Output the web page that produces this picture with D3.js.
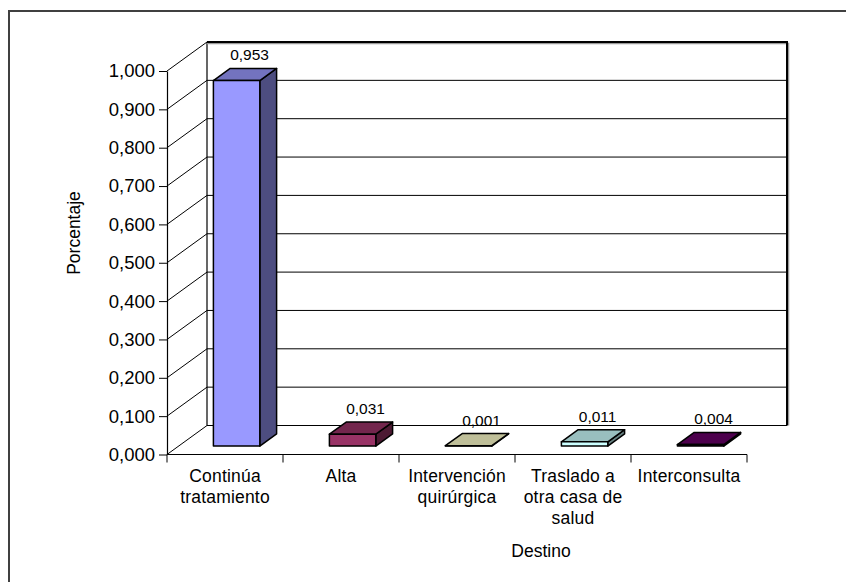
<!DOCTYPE html>
<html>
<head>
<meta charset="utf-8">
<script src="https://cdn.jsdelivr.net/npm/d3@7"></script>
<style>
  html, body { margin: 0; padding: 0; background: #fff; overflow: hidden; }
  svg { display: block; font-family: "Liberation Sans", Arial, sans-serif; }
</style>
</head>
<body>
<svg id="chart" width="846" height="582"></svg>
<script>
// Destino de los pacientes (proporción)
const categories = ["Continúa tratamiento", "Alta", "Intervención quirúrgica", "Traslado a otra casa de salud", "Interconsulta"];
const categoryLines = [["Continúa", "tratamiento"], ["Alta"], ["Intervención", "quirúrgica"], ["Traslado a", "otra casa de", "salud"], ["Interconsulta"]];
const values = [0.953, 0.031, 0.001, 0.011, 0.004];
const frontColors = ["#9999FF", "#993366", "#FFFFCC", "#CCFFFF", "#660066"];
const yTicks = [0, 0.1, 0.2, 0.3, 0.4, 0.5, 0.6, 0.7, 0.8, 0.9, 1.0];

const svg = d3.select("#chart");

// outer chart frame: only its top and left edges fall inside the page
svg.append("path")
  .attr("d", "M9,600V11H860")
  .attr("fill", "none").attr("stroke", "#404040").attr("stroke-width", 2);

// front plane scales and the 3D depth vector
const x = d3.scaleBand().domain(categories).range([167, 747]).paddingInner(0).paddingOuter(0);
const y = d3.scaleLinear().domain([0, 1]).range([454.5, 71]);
const DX = 40, DY = -29;
const x0 = x.range()[0], x1 = x.range()[1];

const fmt = v => d3.format(".3f")(v).replace(".", ",");

// back wall
const wall = svg.append("g");

// gridlines on the back wall and the left wall
yTicks.forEach(t => {
  wall.append("line")
    .attr("x1", x0 + DX).attr("x2", x1 + DX)
    .attr("y1", y(t) + DY).attr("y2", y(t) + DY)
    .attr("stroke", "#000").attr("stroke-width", 1);
  wall.append("line")
    .attr("x1", x0).attr("y1", y(t))
    .attr("x2", x0 + DX).attr("y2", y(t) + DY)
    .attr("stroke", "#000").attr("stroke-width", 1);
});
// left edge of the back wall
wall.append("line")
  .attr("x1", x0 + DX).attr("x2", x0 + DX)
  .attr("y1", y(1) + DY).attr("y2", y(0) + DY)
  .attr("stroke", "#000").attr("stroke-width", 1.2);
// heavy top and right border with light shadow
wall.append("path")
  .attr("d", `M${x0 + DX},${y(1) + DY + 1.5}H${x1 + DX + 1.5}V${y(0) + DY}`)
  .attr("fill", "none").attr("stroke", "#999").attr("stroke-width", 1.5);
wall.append("path")
  .attr("d", `M${x0 + DX},${y(1) + DY}H${x1 + DX}V${y(0) + DY}`)
  .attr("fill", "none").attr("stroke", "#000").attr("stroke-width", 2);

// floor front edge and category ticks
svg.append("line")
  .attr("x1", x0).attr("x2", x1).attr("y1", y(0)).attr("y2", y(0))
  .attr("stroke", "#000").attr("stroke-width", 1.2);
const edges = categories.map(c => x(c)).concat([x1]);
svg.append("g").selectAll("line").data(edges).join("line")
  .attr("x1", d => d).attr("x2", d => d)
  .attr("y1", y(0)).attr("y2", y(0) + 8)
  .attr("stroke", "#000").attr("stroke-width", 1);

// value axis
const yAxis = d3.axisLeft(y).tickValues(yTicks).tickFormat(fmt).tickSize(8).tickSizeOuter(0).tickPadding(4);
const ya = svg.append("g").attr("transform", `translate(${x0},0)`).call(yAxis);
ya.select(".domain").attr("stroke", "#000").attr("stroke-width", 1.2);
ya.selectAll(".tick line").attr("stroke", "#000");
ya.selectAll(".tick text")
  .attr("fill", "#000").attr("font-size", 18.5)
  .attr("font-family", "'Liberation Sans', Arial, sans-serif");

// category labels
const bw = x.bandwidth();
const catG = svg.append("g");
categories.forEach((c, i) => {
  const t = catG.append("text")
    .attr("x", x(c) + bw / 2).attr("y", 481.5)
    .attr("text-anchor", "middle").attr("font-size", 17.5)
    .attr("letter-spacing", 0.2).attr("fill", "#000");
  categoryLines[i].forEach((ln, k) => {
    t.append("tspan").attr("x", x(c) + bw / 2).attr("dy", k === 0 ? 0 : 21).text(ln);
  });
});

// 3D bars
const f1 = 0.29, f2 = 0.71;
const bdx = (f2 - f1) * DX, bdy = (f2 - f1) * DY;
const shade = (col, k) => {
  const c = d3.rgb(col);
  return d3.rgb(c.r * k, c.g * k, c.b * k).formatHex();
};
const bars = svg.append("g");
categories.forEach((c, i) => {
  const v = values[i];
  const bx = x(c) + bw * 0.3 + f1 * DX;
  const w = bw * 0.4;
  const yb = y(0) + f1 * DY;
  const yt = y(v) + f1 * DY;
  const g = bars.append("g").attr("stroke", "#000").attr("stroke-width", 1.5).attr("stroke-linejoin", "round");
  g.append("polygon")
    .attr("points", [[bx + w, yt], [bx + w + bdx, yt + bdy], [bx + w + bdx, yb + bdy], [bx + w, yb]].join(" "))
    .attr("fill", shade(frontColors[i], 0.5));
  g.append("polygon")
    .attr("points", [[bx, yt], [bx + w, yt], [bx + w + bdx, yt + bdy], [bx + bdx, yt + bdy]].join(" "))
    .attr("fill", shade(frontColors[i], 0.75));
  g.append("rect")
    .attr("x", bx).attr("y", yt).attr("width", w).attr("height", Math.max(0, yb - yt))
    .attr("fill", frontColors[i]);
  // value label
  svg.append("text")
    .attr("x", bx + w / 2 + 13).attr("y", yt + bdy - 8)
    .attr("text-anchor", "middle").attr("font-size", 15.5).attr("fill", "#000")
    .text(fmt(v));
});

// axis titles
svg.append("text")
  .attr("transform", "translate(80,233) rotate(-90)")
  .attr("text-anchor", "middle").attr("font-size", 17.5).attr("fill", "#000")
  .text("Porcentaje");
svg.append("text")
  .attr("x", 541).attr("y", 557)
  .attr("text-anchor", "middle").attr("font-size", 17.5).attr("fill", "#000")
  .text("Destino");
</script>
</body>
</html>
